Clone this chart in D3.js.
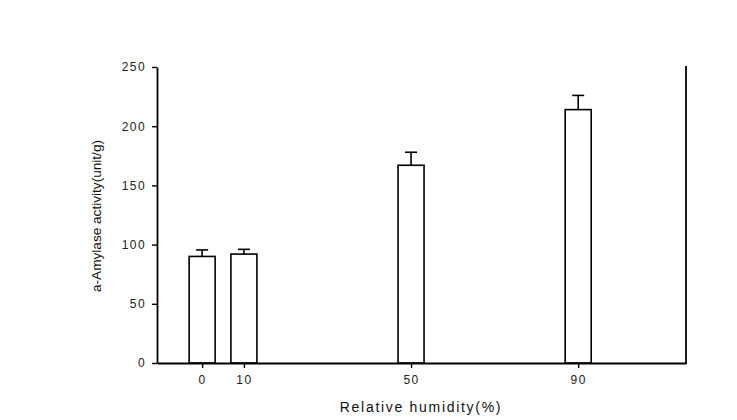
<!DOCTYPE html>
<html><head><meta charset="utf-8">
<script src="https://cdn.jsdelivr.net/npm/d3@7"></script>
<style>body{margin:0;background:#fff}svg{display:block}</style>
</head><body>
<svg id="c" width="737" height="420"></svg>
<script>
const humidity = [0, 10, 50, 90];
const activity = [90, 92, 167, 214];
const errorUp = [5.5, 4, 11, 12];
const yTicks = [0, 50, 100, 150, 200, 250];

const svg = d3.select("#c");
const x = d3.scaleLinear().domain([-10.8, 115.8]).range([157, 686]);
const y = d3.scaleLinear().domain([0, 250]).range([363, 67]);
const barW = 26;

const font = "Liberation Sans, Arial, sans-serif";

// bars
svg.selectAll("rect.bar").data(humidity).enter().append("rect")
  .attr("x", (d) => x(d) - barW / 2)
  .attr("y", (d, i) => y(activity[i]))
  .attr("width", barW)
  .attr("height", (d, i) => y(0) - y(activity[i]))
  .attr("fill", "#fff").attr("stroke", "#000").attr("stroke-width", 1.6);

// error bars (upper only)
const eb = svg.selectAll("g.eb").data(humidity).enter().append("g");
eb.append("line")
  .attr("x1", (d) => x(d)).attr("x2", (d) => x(d))
  .attr("y1", (d, i) => y(activity[i])).attr("y2", (d, i) => y(activity[i] + errorUp[i]))
  .attr("stroke", "#000").attr("stroke-width", 1.6);
eb.append("line")
  .attr("x1", (d) => x(d) - 6).attr("x2", (d) => x(d) + 6)
  .attr("y1", (d, i) => y(activity[i] + errorUp[i])).attr("y2", (d, i) => y(activity[i] + errorUp[i]))
  .attr("stroke", "#000").attr("stroke-width", 1.6);

// y axis
const ya = svg.append("g").attr("transform", "translate(157,0)")
  .call(d3.axisLeft(y).tickValues(yTicks).tickSize(5).tickPadding(6).tickSizeOuter(0));
ya.select(".domain").attr("stroke-width", 1.8);
ya.selectAll(".tick line").attr("stroke-width", 1.4);
ya.selectAll("text").attr("font-family", font).attr("font-size", 12)
  .attr("letter-spacing", "1.4px").attr("fill", "#222");

// x axis
const xa = svg.append("g").attr("transform", "translate(0,363)")
  .call(d3.axisBottom(x).tickValues(humidity).tickSize(5).tickPadding(7).tickSizeOuter(0));
xa.select(".domain").attr("stroke-width", 2);
xa.selectAll(".tick line").attr("stroke-width", 1.4);
xa.selectAll("text").attr("font-family", font).attr("font-size", 12)
  .attr("letter-spacing", "1.4px").attr("fill", "#222");

// right border
svg.append("line").attr("x1", 686).attr("x2", 686).attr("y1", 66).attr("y2", 364)
  .attr("stroke", "#000").attr("stroke-width", 1.8);

// titles
svg.append("text").attr("x", 421).attr("y", 412).attr("text-anchor", "middle")
  .attr("font-family", font).attr("font-size", 14).attr("letter-spacing", "1.7px")
  .attr("fill", "#111").text("Relative humidity(%)");
svg.append("text").attr("transform", "translate(101,216) rotate(-90)").attr("text-anchor", "middle")
  .attr("font-family", font).attr("font-size", 13)
  .attr("textLength", 152).attr("lengthAdjust", "spacingAndGlyphs")
  .attr("fill", "#111").text("a-Amylase activity(unit/g)");
</script>
</body></html>
